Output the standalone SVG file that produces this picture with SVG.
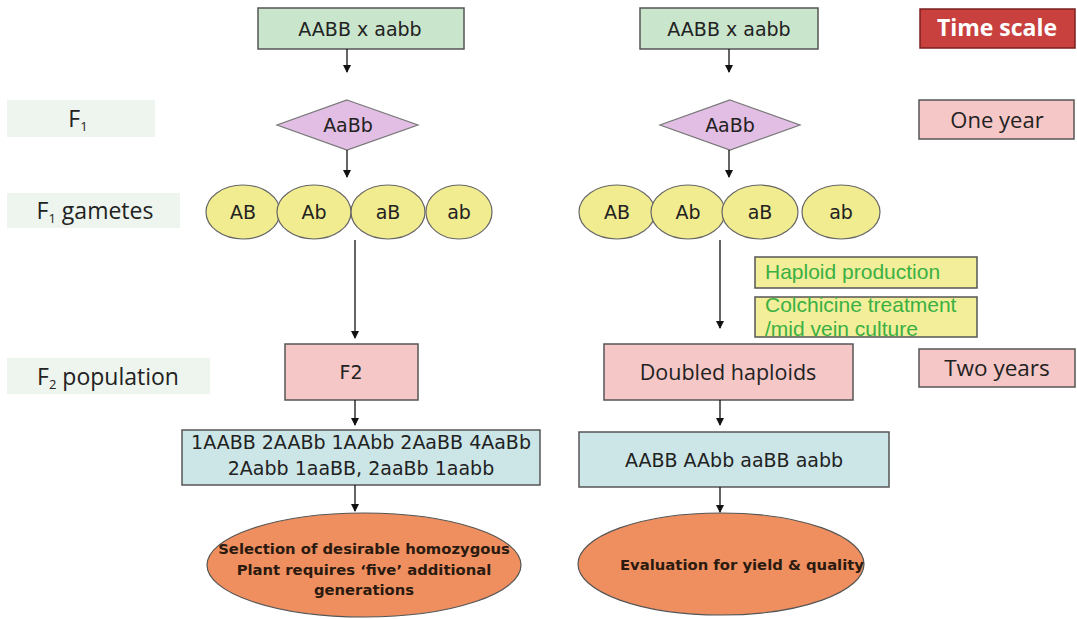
<svg xmlns="http://www.w3.org/2000/svg" width="1077" height="619" viewBox="0 0 1077 619">
<defs>
<marker id="ah" markerWidth="8" markerHeight="8" refX="7" refY="4" orient="auto" markerUnits="userSpaceOnUse">
<path d="M0,0 L8,4 L0,8 Z" fill="#111"/>
</marker>
<style>
.green{fill:#c9e5cb;stroke:#555;stroke-width:1.5}
.pink{fill:#f5c7c7;stroke:#555;stroke-width:1.5}
.blue{fill:#cce6e8;stroke:#555;stroke-width:1.5}
.dia{fill:#e2bde4;stroke:#777;stroke-width:1.2}
.gam{fill:#f2ec90;stroke:#666;stroke-width:1.2}
.org{fill:#ef8f5f;stroke:#555;stroke-width:1.2}
.yel{fill:#f2ee99;stroke:#555;stroke-width:1.5}
.lab{fill:#eef5ee}
.red{fill:#c8413e;stroke:#7a2020;stroke-width:1.5}
.t{font-family:"DejaVu Sans",Verdana,sans-serif;fill:#222;text-anchor:middle}
.c{font-family:"Open Sans","Noto Sans",sans-serif;fill:#222;text-anchor:middle}
.b{font-family:"DejaVu Sans",Verdana,sans-serif;font-weight:bold;fill:#2a1a10;text-anchor:middle;font-size:14.8px}
.g{font-family:"Liberation Sans",Arial,sans-serif;fill:#3bb043;font-size:21px}
.con{stroke:#111;stroke-width:1.3;fill:none}
</style>
</defs>
<rect width="1077" height="619" fill="#fff"/>

<g id="label-f1"><rect class="lab" x="7" y="100" width="148" height="37"/><text class="c" x="78" y="127" font-size="23">F<tspan font-size="13" dy="4">1</tspan></text></g>
<g id="label-gametes"><rect class="lab" x="7" y="193" width="173" height="35"/><text class="c" x="95" y="219" font-size="23">F<tspan font-size="13" dy="4">1</tspan><tspan dy="-4"> gametes</tspan></text></g>
<g id="label-f2pop"><rect class="lab" x="7" y="358" width="203" height="36"/><text class="c" x="108" y="385" font-size="23">F<tspan font-size="13" dy="4">2</tspan><tspan dy="-4"> population</tspan></text></g>

<g id="left-cross"><rect class="green" x="258" y="8" width="206" height="41"/><text class="t" x="360" y="36" font-size="19">AABB x aabb</text></g>
<g id="left-f1"><polygon class="dia" points="347,100 418,125 347,150 277,125"/><text class="t" x="348" y="132" font-size="19">AaBb</text></g>
<g id="left-gametes">
<ellipse class="gam" cx="243" cy="212" rx="37" ry="27"/>
<ellipse class="gam" cx="314" cy="212" rx="37" ry="27"/>
<ellipse class="gam" cx="388" cy="212" rx="37" ry="27"/>
<ellipse class="gam" cx="459" cy="212" rx="33" ry="27"/>
<text class="t" x="243" y="219" font-size="19">AB</text>
<text class="t" x="314" y="219" font-size="19">Ab</text>
<text class="t" x="388" y="219" font-size="19">aB</text>
<text class="t" x="459" y="219" font-size="19">ab</text>
</g>
<g id="left-f2"><rect class="pink" x="285" y="344" width="133" height="56"/><text class="t" x="351" y="379" font-size="19">F2</text></g>
<g id="left-genotypes"><rect class="blue" x="182" y="430" width="358" height="55"/>
<text class="t" x="361" y="449" font-size="19">1AABB 2AABb 1AAbb 2AaBB 4AaBb</text>
<text class="t" x="361" y="475" font-size="19">2Aabb 1aaBB, 2aaBb 1aabb</text></g>
<g id="left-selection"><ellipse class="org" cx="364" cy="565" rx="157" ry="52"/>
<text class="b" x="364" y="554">Selection of desirable homozygous</text>
<text class="b" x="364" y="575">Plant requires ‘five’ additional</text>
<text class="b" x="364" y="595">generations</text></g>

<g id="right-cross"><rect class="green" x="640" y="8" width="178" height="41"/><text class="t" x="729" y="36" font-size="19">AABB x aabb</text></g>
<g id="right-f1"><polygon class="dia" points="730,100 800,125 730,150 660,125"/><text class="t" x="730" y="132" font-size="19">AaBb</text></g>
<g id="right-gametes">
<ellipse class="gam" cx="617" cy="212" rx="38" ry="27"/>
<ellipse class="gam" cx="688" cy="212" rx="37" ry="27"/>
<ellipse class="gam" cx="760" cy="212" rx="38" ry="27"/>
<ellipse class="gam" cx="841" cy="212" rx="39" ry="27"/>
<text class="t" x="617" y="219" font-size="19">AB</text>
<text class="t" x="688" y="219" font-size="19">Ab</text>
<text class="t" x="760" y="219" font-size="19">aB</text>
<text class="t" x="841" y="219" font-size="19">ab</text>
</g>
<g id="haploid"><rect class="yel" x="755" y="257" width="222" height="31"/><text class="g" x="765" y="279">Haploid production</text></g>
<g id="colchicine"><rect class="yel" x="755" y="297" width="222" height="40"/><text class="g" x="765" y="312">Colchicine treatment</text><text class="g" x="765" y="336">/mid vein culture</text></g>
<g id="doubled"><rect class="pink" x="604" y="344" width="249" height="56"/><text class="c" x="728" y="380" font-size="21.5">Doubled haploids</text></g>
<g id="right-genotypes"><rect class="blue" x="579" y="432" width="310" height="55"/><text class="t" x="734" y="467" font-size="19">AABB AAbb aaBB aabb</text></g>
<g id="evaluation"><ellipse class="org" cx="721" cy="564" rx="143" ry="51"/><text class="b" x="742" y="570">Evaluation for yield &amp; quality</text></g>

<g id="time-scale"><rect class="red" x="920" y="9" width="155" height="39"/><text class="c" x="997" y="36" font-size="23" font-weight="bold" style="fill:#fff">Time scale</text></g>
<g id="one-year"><rect class="pink" x="919" y="100" width="155" height="39"/><text class="c" x="997" y="128" font-size="22">One year</text></g>
<g id="two-years"><rect class="pink" x="919" y="349" width="156" height="38"/><text class="c" x="997" y="376" font-size="22.5">Two years</text></g>

<g id="connectors">
<line class="con" x1="347" y1="49" x2="347" y2="72" marker-end="url(#ah)"/>
<line class="con" x1="347" y1="150" x2="347" y2="177" marker-end="url(#ah)"/>
<line class="con" x1="355" y1="240" x2="355" y2="338" marker-end="url(#ah)"/>
<line class="con" x1="355" y1="400" x2="355" y2="425" marker-end="url(#ah)"/>
<line class="con" x1="355" y1="485" x2="355" y2="511" marker-end="url(#ah)"/>
<line class="con" x1="729" y1="49" x2="729" y2="72" marker-end="url(#ah)"/>
<line class="con" x1="729" y1="150" x2="729" y2="177" marker-end="url(#ah)"/>
<line class="con" x1="720" y1="240" x2="720" y2="328" marker-end="url(#ah)"/>
<line class="con" x1="720" y1="400" x2="720" y2="425" marker-end="url(#ah)"/>
<line class="con" x1="720" y1="487" x2="720" y2="512" marker-end="url(#ah)"/>
</g>
</svg>
